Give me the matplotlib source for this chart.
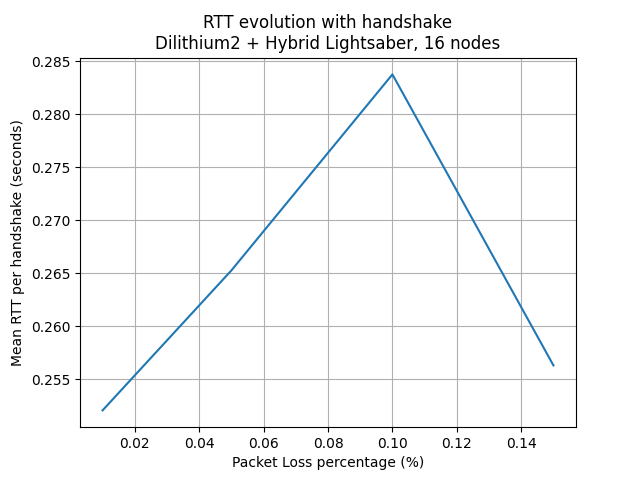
import matplotlib
matplotlib.use("Agg")
import matplotlib.pyplot as plt

loss = [0.01, 0.05, 0.10, 0.15]
rtt = [0.25208, 0.26528, 0.28377, 0.25632]

fig, ax = plt.subplots(figsize=(6.4, 4.8), dpi=100)
ax.plot(loss, rtt)
ax.set_title("RTT evolution with handshake\nDilithium2 + Hybrid Lightsaber, 16 nodes")
ax.set_xlabel("Packet Loss percentage (%)")
ax.set_ylabel("Mean RTT per handshake (seconds)")
ax.grid(True)
fig.savefig("out.png")
